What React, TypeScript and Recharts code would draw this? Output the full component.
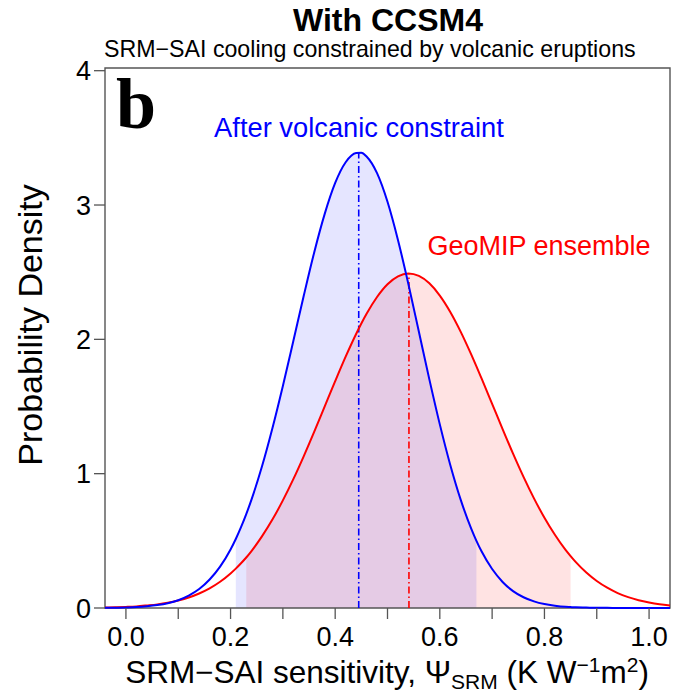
import {
  Area,
  ComposedChart,
  Line,
  ReferenceArea,
  ReferenceLine,
  XAxis,
  YAxis,
} from "recharts";

// x grid (K W^-1 m^2) with densities
const xs = [
  -0.04, -0.02, 0.0, 0.02, 0.04, 0.06, 0.08, 0.1, 0.12, 0.14,
  0.16, 0.18, 0.2, 0.21, 0.22, 0.23, 0.24, 0.26, 0.28, 0.3,
  0.32, 0.34, 0.36, 0.38, 0.4, 0.42, 0.44, 0.45, 0.46, 0.48,
  0.5, 0.52, 0.54, 0.56, 0.58, 0.6, 0.62, 0.64, 0.66, 0.67,
  0.68, 0.7, 0.72, 0.74, 0.76, 0.78, 0.8, 0.82, 0.84, 0.85,
  0.86, 0.88, 0.9, 0.92, 0.94, 0.96, 0.98, 1.0, 1.02, 1.04,
];

// After volcanic constraint (blue)
const constrainedDensity = [
  0.001, 0.002, 0.004, 0.007, 0.013, 0.022, 0.036, 0.058, 0.092, 0.141,
  0.212, 0.308, 0.436, 0.514, 0.602, 0.699, 0.807, 1.053, 1.338, 1.653,
  1.988, 2.326, 2.649, 2.934, 3.164, 3.318, 3.387, 3.389, 3.361, 3.237,
  3.024, 2.74, 2.41, 2.056, 1.702, 1.367, 1.065, 0.805, 0.591, 0.5,
  0.42, 0.29, 0.194, 0.126, 0.08, 0.049, 0.029, 0.017, 0.009, 0.007,
  0.005, 0.003, 0.001, 0.001, 0, 0, 0, 0, 0, 0,
];

// GeoMIP ensemble (red)
const geomipDensity = [
  0.003, 0.005, 0.008, 0.012, 0.019, 0.027, 0.039, 0.056, 0.078, 0.108,
  0.146, 0.195, 0.257, 0.293, 0.333, 0.376, 0.424, 0.533, 0.658, 0.801,
  0.959, 1.131, 1.313, 1.501, 1.689, 1.871, 2.04, 2.118, 2.19, 2.315,
  2.41, 2.469, 2.49, 2.472, 2.417, 2.326, 2.204, 2.056, 1.888, 1.799,
  1.707, 1.52, 1.332, 1.149, 0.976, 0.816, 0.672, 0.545, 0.434, 0.386,
  0.341, 0.264, 0.201, 0.151, 0.111, 0.081, 0.058, 0.041, 0.028, 0.019,
];

// shaded ranges and modes
const constrainedRange = [0.21, 0.67];
const geomipRange = [0.23, 0.85];
const constrainedMode = { x: 0.445, density: 3.39 };
const geomipMode = { x: 0.541, density: 2.49 };

const xTicks = [0, 0.1, 0.2, 0.3, 0.4, 0.5, 0.6, 0.7, 0.8, 0.9, 1.0];
const xTickLabels = ["0.0", "", "0.2", "", "0.4", "", "0.6", "", "0.8", "", "1.0"];
const yTicks = [0, 1, 2, 3, 4];

const inRange = (x: number, r: number[]) => x >= r[0] - 1e-9 && x <= r[1] + 1e-9;

const data = xs.map((x, i) => ({
  x,
  blue: constrainedDensity[i],
  red: geomipDensity[i],
  blueBand: inRange(x, constrainedRange) ? constrainedDensity[i] : null,
  redBand: inRange(x, geomipRange) ? geomipDensity[i] : null,
}));

const FONT = "'Liberation Sans', Arial, Helvetica, sans-serif";
const AXIS_GREY = "#555";

export default function App() {
  return (
    <div
      style={{
        position: "absolute",
        left: 0,
        top: 0,
        width: 686,
        height: 693,
        background: "#fff",
        fontFamily: FONT,
      }}
    >
      <ComposedChart
        width={686}
        height={693}
        data={data}
        margin={{ top: 68, right: 16, bottom: 0, left: 0 }}
      >
        <XAxis
          dataKey="x"
          type="number"
          domain={[-0.04, 1.04]}
          ticks={xTicks}
          interval={0}
          tickFormatter={(_v: number, i: number) => xTickLabels[i]}
          height={85}
          axisLine={false}
          tickSize={11}
          tickMargin={8}
          tickLine={{ stroke: AXIS_GREY, strokeWidth: 1.3 }}
          tick={{ fontSize: 27, fill: "#000", fontFamily: FONT }}
        />
        <YAxis
          type="number"
          domain={[0, 4.02]}
          ticks={yTicks}
          interval={0}
          width={105}
          axisLine={false}
          tickSize={11}
          tickMargin={3}
          tickLine={{ stroke: AXIS_GREY, strokeWidth: 1.3 }}
          tick={{ fontSize: 27, fill: "#000", fontFamily: FONT }}
        />
        <Area
          dataKey="redBand"
          type="monotone"
          stroke="none"
          fill="#ff0000"
          fillOpacity={0.11}
          baseValue={0}
          connectNulls={false}
          isAnimationActive={false}
        />
        <Area
          dataKey="blueBand"
          type="monotone"
          stroke="none"
          fill="#0000ff"
          fillOpacity={0.1}
          baseValue={0}
          connectNulls={false}
          isAnimationActive={false}
        />
        <ReferenceLine
          segment={[
            { x: constrainedMode.x, y: 0 },
            { x: constrainedMode.x, y: constrainedMode.density },
          ]}
          stroke="#0000ff"
          strokeWidth={1.6}
          strokeDasharray="7 3 1.5 3"
        />
        <ReferenceLine
          segment={[
            { x: geomipMode.x, y: 0 },
            { x: geomipMode.x, y: geomipMode.density },
          ]}
          stroke="#ff0000"
          strokeWidth={1.6}
          strokeDasharray="7 3 1.5 3"
        />
        <Line
          dataKey="red"
          type="monotone"
          stroke="#ff0000"
          strokeWidth={2}
          dot={false}
          isAnimationActive={false}
        />
        <Line
          dataKey="blue"
          type="monotone"
          stroke="#0000ff"
          strokeWidth={2}
          dot={false}
          isAnimationActive={false}
        />
        <ReferenceArea
          x1={-0.04}
          x2={1.04}
          y1={0}
          y2={4.02}
          fill="none"
          stroke={AXIS_GREY}
          strokeWidth={1.4}
          fillOpacity={0}
        />
      </ComposedChart>
      <svg
        width={686}
        height={693}
        style={{ position: "absolute", left: 0, top: 0, pointerEvents: "none" }}
        fontFamily={FONT}
      >
        <text x={388} y={31} textAnchor="middle" fontSize={32} fontWeight="bold" fill="#000">
          With CCSM4
        </text>
        <text x={104} y={57} fontSize={23.2} fill="#000">
          SRM−SAI cooling constrained by volcanic eruptions
        </text>
        <text
          x={116}
          y={128}
          fontSize={72}
          fontWeight="bold"
          fontFamily="'Liberation Serif', 'Times New Roman', serif"
          fill="#000"
        >
          b
        </text>
        <text x={359} y={137} textAnchor="middle" fontSize={27.3} fill="#0000ff">
          After volcanic constraint
        </text>
        <text x={539} y={255} textAnchor="middle" fontSize={27} fill="#ff0000">
          GeoMIP ensemble
        </text>
        <text
          x={42}
          y={325}
          textAnchor="middle"
          fontSize={34}
          fill="#000"
          transform="rotate(-90 42 325)"
        >
          Probability Density
        </text>
        <text x={387} y={683} textAnchor="middle" fontSize={31.5} fill="#000">
          SRM−SAI sensitivity, Ψ
          <tspan fontSize={21} dy={6}>SRM</tspan>
          <tspan dy={-6}> (K W</tspan>
          <tspan fontSize={21} dy={-11}>−1</tspan>
          <tspan dy={11}>m</tspan>
          <tspan fontSize={21} dy={-11}>2</tspan>
          <tspan dy={11}>)</tspan>
        </text>
      </svg>
    </div>
  );
}
